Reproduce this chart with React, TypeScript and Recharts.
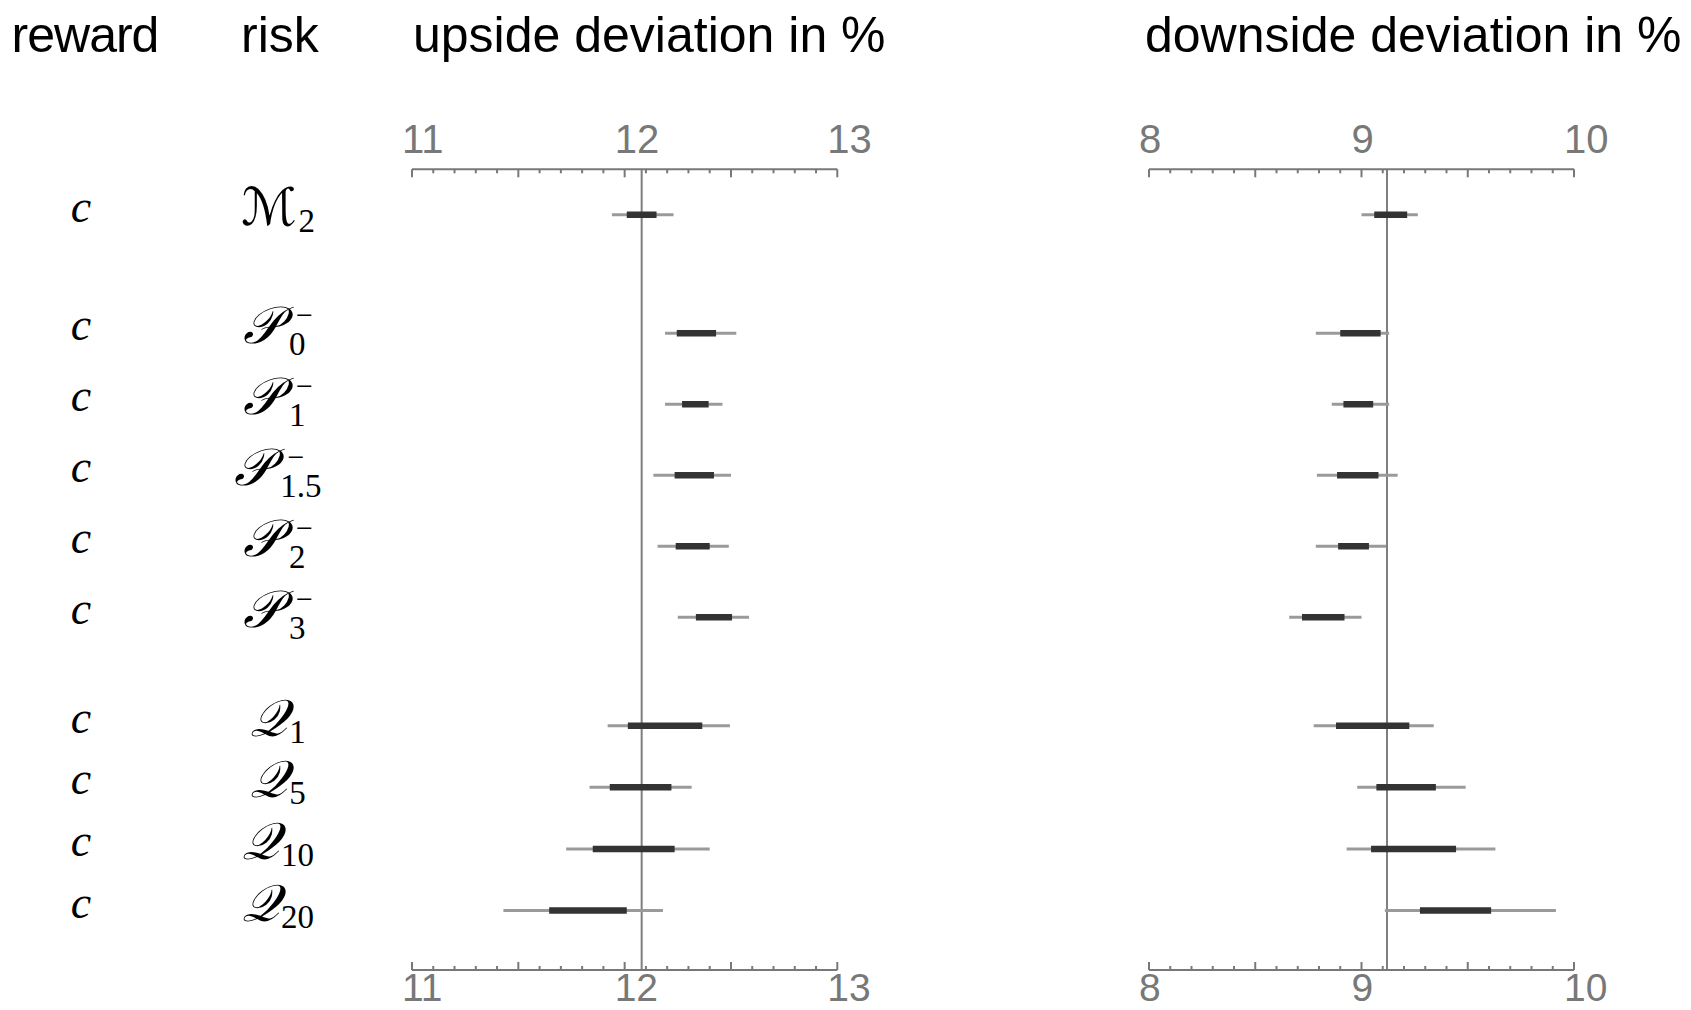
import { ComposedChart, Line, XAxis, YAxis, ReferenceLine } from 'recharts'

// table columns
const REWARD = ['c', 'c', 'c', 'c', 'c', 'c', 'c', 'c', 'c', 'c']
const RISK_BASE = ['\u2133', '\u{1D4AB}', '\u{1D4AB}', '\u{1D4AB}', '\u{1D4AB}', '\u{1D4AB}', '\u{1D4AC}', '\u{1D4AC}', '\u{1D4AC}', '\u{1D4AC}']
const RISK_SUB = ['2', '0', '1', '1.5', '2', '3', '1', '5', '10', '20']
const RISK_SUP = ['', '\u2212', '\u2212', '\u2212', '\u2212', '\u2212', '', '', '', '']

// upside deviation in %: whisker ends and inner range per row
const UP_LO = [11.94, 12.19, 12.19, 12.135, 12.155, 12.25, 11.92, 11.835, 11.725, 11.43]
const UP_Q1 = [12.01, 12.245, 12.27, 12.235, 12.24, 12.335, 12.015, 11.93, 11.85, 11.645]
const UP_Q3 = [12.15, 12.43, 12.395, 12.42, 12.4, 12.505, 12.365, 12.22, 12.235, 12.01]
const UP_HI = [12.23, 12.525, 12.46, 12.5, 12.49, 12.585, 12.495, 12.315, 12.4, 12.18]
const UP_REF = 12.08

// downside deviation in %
const DOWN_LO = [9.0, 8.785, 8.86, 8.79, 8.785, 8.66, 8.775, 8.98, 8.93, 9.11]
const DOWN_Q1 = [9.06, 8.9, 8.915, 8.885, 8.89, 8.72, 8.88, 9.07, 9.045, 9.275]
const DOWN_Q3 = [9.215, 9.09, 9.055, 9.08, 9.035, 8.92, 9.225, 9.35, 9.445, 9.61]
const DOWN_HI = [9.265, 9.13, 9.13, 9.17, 9.115, 9.0, 9.34, 9.49, 9.63, 9.915]
const DOWN_REF = 9.12

const UP_DOMAIN: [number, number] = [11, 13]
const DOWN_DOMAIN: [number, number] = [8, 10]

// row layout: groups have their own pitch, with a spacer between groups
const ROW_GROUP = [0, 1, 1, 1, 1, 1, 2, 2, 2, 2]
const GROUP_PITCH = [71, 71, 61.6]
const GROUP_GAP = [0, 47.5, 42.1]
const TOP_PAD = 10
const PLOT_H = 800.7

const rowY: number[] = []
{
  let pos = TOP_PAD
  ROW_GROUP.forEach((g, i) => {
    if (i > 0 && g !== ROW_GROUP[i - 1]) pos += GROUP_GAP[g]
    rowY.push(pos + GROUP_PITCH[g] / 2)
    pos += GROUP_PITCH[g]
  })
}

const AXIS = '#787878'
const WHISKER = '#9a9a9a'
const BOX = '#333333'
const SANS = '"Liberation Sans", Arial, sans-serif'
const SERIF = '"Liberation Serif", "Times New Roman", serif'
const SCRIPT = '"DejaVu Serif", "DejaVu Sans", serif'

function makeTicks(lo: number) {
  return Array.from({ length: 21 }, (_, i) => +(lo + i * 0.1).toFixed(1))
}

// one path per style, broken between rows by a null point
function segments(lo: number[], hi: number[]) {
  return lo.flatMap((l, i) => [
    { v: l, y: rowY[i] },
    { v: hi[i], y: rowY[i] },
    { v: hi[i], y: null },
  ])
}

function isMajor(v: number) {
  return Math.abs(v * 2 - Math.round(v * 2)) < 1e-6
}

function TopTick(props: any) {
  const { x, y, payload } = props
  const v = payload.value
  return (
    <g>
      <line x1={x} x2={x} y1={y} y2={y + (isMajor(v) ? 8 : 4)} stroke={AXIS} strokeWidth={2} />
      {Number.isInteger(v) && (
        <text x={x - 10} y={y - 16} fontSize={40} fontFamily={SANS} fill={AXIS} textAnchor="start">
          {v}
        </text>
      )}
    </g>
  )
}

function BottomTick(props: any) {
  const { x, y, payload } = props
  const v = payload.value
  return (
    <g>
      <line x1={x} x2={x} y1={y} y2={y - (isMajor(v) ? 8 : 4)} stroke={AXIS} strokeWidth={2} />
      {Number.isInteger(v) && (
        <text x={x - 10} y={y + 31} fontSize={39} fontFamily={SANS} fill={AXIS} textAnchor="start">
          {v}
        </text>
      )}
    </g>
  )
}

// reward and risk columns, drawn as y-axis ticks
function RowLabel(props: any) {
  const { x, y, index } = props
  const sup = RISK_SUP[index]
  return (
    <g>
      <text x={x - 331} y={y + 7} fontSize={46} fontFamily={SERIF} fontStyle="italic" textAnchor="middle" fill="#000">
        {REWARD[index]}
      </text>
      <text x={x - 134} y={y + 10} textAnchor="middle" fill="#000">
        <tspan fontSize={52} fontFamily={SCRIPT} fontStyle="italic">
          {RISK_BASE[index]}
        </tspan>
        {sup && (
          <tspan fontSize={30} fontFamily={SERIF} dx={16} dy={-18}>
            {sup}
          </tspan>
        )}
        <tspan fontSize={33} fontFamily={SERIF} dx={sup ? -24 : 2} dy={sup ? 30 : 7}>
          {RISK_SUB[index]}
        </tspan>
      </text>
    </g>
  )
}

function Panel(props: {
  width: number
  left: number
  marginLeft: number
  marginRight: number
  domain: [number, number]
  lo: number[]
  q1: number[]
  q3: number[]
  hi: number[]
  reference: number
  showLabels: boolean
}) {
  const { width, left, marginLeft, marginRight, domain, lo, q1, q3, hi, reference, showLabels } = props
  const ticks = makeTicks(domain[0])
  return (
    <div style={{ position: 'absolute', left, top: 0 }}>
      <ComposedChart
        width={width}
        height={1010}
        margin={{ top: 109.3, right: marginRight, bottom: 0, left: marginLeft }}
      >
        <XAxis
          xAxisId="top"
          orientation="top"
          type="number"
          dataKey="v"
          domain={domain}
          allowDataOverflow
          ticks={ticks}
          interval={0}
          height={60}
          tickSize={0}
          tickMargin={0}
          tickLine={false}
          axisLine={{ stroke: AXIS, strokeWidth: 2 }}
          tick={<TopTick />}
        />
        <XAxis
          xAxisId="bottom"
          orientation="bottom"
          type="number"
          dataKey="v"
          domain={domain}
          allowDataOverflow
          ticks={ticks}
          interval={0}
          height={40}
          tickSize={0}
          tickMargin={0}
          tickLine={false}
          axisLine={{ stroke: AXIS, strokeWidth: 2 }}
          tick={<BottomTick />}
        />
        <YAxis
          type="number"
          dataKey="y"
          domain={[0, PLOT_H]}
          reversed
          allowDataOverflow
          hide={!showLabels}
          width={showLabels ? 412 : 0}
          ticks={rowY}
          interval={0}
          tickSize={0}
          tickMargin={0}
          tickLine={false}
          axisLine={false}
          tick={<RowLabel />}
        />
        <ReferenceLine xAxisId="top" x={reference} stroke="#7f7f7f" strokeWidth={2} />
        <Line
          xAxisId="top"
          data={segments(lo, hi)}
          dataKey="y"
          stroke={WHISKER}
          strokeWidth={3}
          dot={false}
          activeDot={false}
          connectNulls={false}
          isAnimationActive={false}
        />
        <Line
          xAxisId="top"
          data={segments(q1, q3)}
          dataKey="y"
          stroke={BOX}
          strokeWidth={6.5}
          dot={false}
          activeDot={false}
          connectNulls={false}
          isAnimationActive={false}
        />
      </ComposedChart>
    </div>
  )
}

export default function App() {
  return (
    <div style={{ position: 'absolute', left: 0, top: 0, width: 1691, height: 1010, background: '#fff' }}>
      <svg width={1691} height={80} style={{ position: 'absolute', left: 0, top: 0 }}>
        <g fontFamily={SANS} fontSize={50} fill="#000">
          <text x={85} y={52} textAnchor="middle" letterSpacing={-1}>reward</text>
          <text x={280} y={52} textAnchor="middle">risk</text>
          <text x={413} y={52}>upside deviation in %</text>
          <text x={1145} y={52}>downside deviation in %</text>
        </g>
      </svg>
      <Panel
        width={880}
        left={0}
        marginLeft={0}
        marginRight={42.7}
        domain={UP_DOMAIN}
        lo={UP_LO}
        q1={UP_Q1}
        q3={UP_Q3}
        hi={UP_HI}
        reference={UP_REF}
        showLabels
      />
      <Panel
        width={811}
        left={880}
        marginLeft={269}
        marginRight={117}
        domain={DOWN_DOMAIN}
        lo={DOWN_LO}
        q1={DOWN_Q1}
        q3={DOWN_Q3}
        hi={DOWN_HI}
        reference={DOWN_REF}
        showLabels={false}
      />
    </div>
  )
}
